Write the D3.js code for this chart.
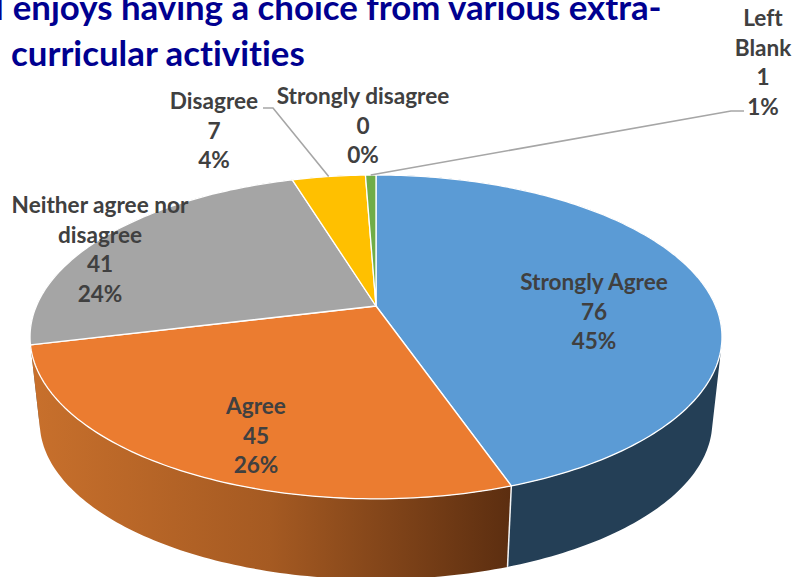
<!DOCTYPE html>
<html>
<head>
<meta charset="utf-8">
<script src="https://cdn.jsdelivr.net/npm/d3@7"></script>
<style>
  html, body { margin: 0; padding: 0; background: #fff; overflow: hidden; }
  svg { display: block; }
  text { font-variant-ligatures: none; }
</style>
</head>
<body>
<div id="chart"></div>
<script>
// data
const categories = ['Strongly Agree', 'Agree', 'Neither agree nor disagree', 'Disagree', 'Strongly disagree', 'Left Blank'];
const counts = [76, 45, 41, 7, 0, 1];
const titleLines = ['I enjoys having a choice from various extra-', 'curricular activities'];

const topColors = ['#5b9bd5', '#eb7c30', '#a5a5a5', '#ffc000', '#4472c4', '#70ad47'];
const sideColors = ['#243f56', 'url(#orangeSide)', '#5f5f5f', '#977200', '#264478', '#43682b'];

// label layout: wrapped lines for the name, centre x, first baseline
const labelLines = [['Strongly Agree'], ['Agree'], ['Neither agree nor', 'disagree'], ['Disagree'], ['Strongly disagree'], ['Left', 'Blank']];
const labelX = [594, 256, 100, 214, 363, 763];
const labelY = [290, 414, 213, 109, 104, 26];
const lineGap = 29.5;

const width = 795, height = 577;
const svg = d3.select('#chart').append('svg').attr('width', width).attr('height', height);

const grad = svg.append('defs').append('linearGradient')
  .attr('id', 'orangeSide')
  .attr('gradientUnits', 'userSpaceOnUse')
  .attr('x1', 30).attr('x2', 510).attr('y1', 0).attr('y2', 0);
grad.append('stop').attr('offset', '0%').attr('stop-color', '#c8702c');
grad.append('stop').attr('offset', '50%').attr('stop-color', '#a55a22');
grad.append('stop').attr('offset', '100%').attr('stop-color', '#5c2e10');

// tilted disc: unit circle through a small perspective divide
const apexX = 376, topY = 306, sideY = 392;
const rX = 339.6, rY = 156, persp = 0.191, shrink = 0.972;

function project(a, r = 1) {
  const u = r * Math.sin(a), v = -r * Math.cos(a);
  const w = 1 - persp * v;
  return [apexX + rX * u / w, topY + rY * v / w];
}
function lower(p) {
  return [apexX + shrink * (p[0] - apexX), sideY + shrink * (p[1] - topY)];
}
function arcPoints(a0, a1) {
  const n = Math.max(1, Math.ceil((a1 - a0) / (Math.PI / 180)));
  return d3.range(n + 1).map(i => project(a0 + (a1 - a0) * i / n));
}

const slices = d3.pie().sort(null).value(d => d)(counts);
const total = d3.sum(counts);
const pct = d3.format('.0%');
const line = d3.line();

// wall is a run of small quads so the outline follows the silhouette
function wallPath(d) {
  const rim = arcPoints(d.startAngle, d.endAngle);
  return d3.pairs(rim).map(([a, b]) => {
    const quad = [a, b, lower(b), lower(a)];
    if (d3.polygonArea(quad) < 0) quad.reverse();
    return line(quad) + 'Z';
  }).join('');
}

// back walls first, blue and orange are the front ones
const wallOrder = slices.filter(d => d.value > 0).slice().reverse();
svg.append('g').selectAll('path')
  .data(wallOrder)
  .enter().append('path')
  .attr('d', wallPath)
  .attr('fill', d => sideColors[d.index]);

// white seam between the two visible walls
const seamAngle = slices[0].endAngle;
svg.append('path')
  .attr('d', line([project(seamAngle), lower(project(seamAngle))]))
  .attr('stroke', '#f4f4f4')
  .attr('stroke-width', 1.5);

svg.append('g').selectAll('path')
  .data(slices.filter(d => d.value > 0))
  .enter().append('path')
  .attr('d', d => line([[apexX, topY]].concat(arcPoints(d.startAngle, d.endAngle))) + 'Z')
  .attr('fill', d => topColors[d.index])
  .attr('stroke', '#fff')
  .attr('stroke-width', 1.3)
  .attr('stroke-linejoin', 'round');

// leader lines
const leaders = [
  { i: 3, from: [263, 108], knee: [273, 108] },
  { i: 5, from: [744, 111], knee: [731, 111] }
];
svg.append('g').selectAll('path')
  .data(leaders)
  .enter().append('path')
  .attr('d', d => {
    const s = slices[d.i];
    return line([d.from, d.knee, project((s.startAngle + s.endAngle) / 2)]);
  })
  .attr('fill', 'none')
  .attr('stroke', '#a6a6a6')
  .attr('stroke-width', 1.6);

// data labels
const labels = svg.append('g')
  .attr('font-family', 'Lato, "Open Sans", sans-serif')
  .attr('font-weight', 700)
  .attr('font-size', '22.6px')
  .attr('fill', '#404040')
  .attr('text-anchor', 'middle');

categories.forEach((c, i) => {
  const rows = labelLines[i].concat([counts[i], pct(counts[i] / total)]);
  labels.selectAll(null)
    .data(rows)
    .enter().append('text')
    .attr('x', labelX[i])
    .attr('y', (d, j) => labelY[i] + j * lineGap)
    .text(d => d);
});

// title, runs off the top left of the frame
svg.append('g')
  .attr('font-family', 'Lato, "Open Sans", sans-serif')
  .attr('font-weight', 700)
  .attr('font-size', '34.8px')
  .attr('fill', '#000090')
  .selectAll('text')
  .data(titleLines)
  .enter().append('text')
  .attr('x', (d, i) => i == 0 ? -6 : 11)
  .attr('y', (d, i) => i == 0 ? 20 : 66)
  .text(d => d);
</script>
</body>
</html>
